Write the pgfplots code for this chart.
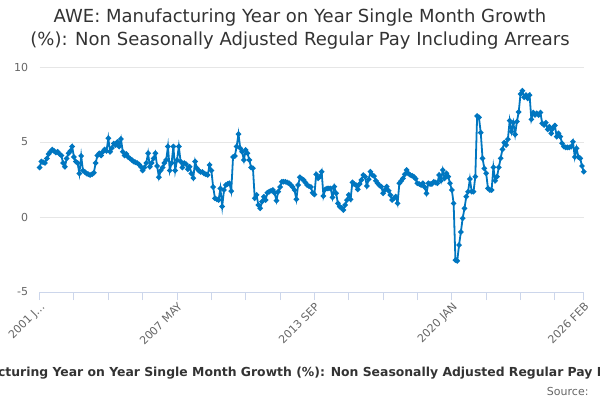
\documentclass[border=0pt]{standalone}
\usepackage{fontspec}
\setmainfont{DejaVu Sans}
\usepackage{pgfplots}
\pgfplotsset{compat=1.18}
\definecolor{linec}{RGB}{0,118,192}
\definecolor{gridc}{HTML}{E6E6E6}
\definecolor{axisc}{HTML}{CCD6EB}
\definecolor{labc}{HTML}{666666}
\definecolor{titc}{HTML}{333333}
\begin{document}
\begin{tikzpicture}[x=1pt,y=1pt]
\begin{axis}[scale only axis,
  width=544.2pt, height=225pt,
  xmin=0, xmax=301, ymin=-5, ymax=10,
  axis x line*=bottom, axis y line*=left,
  x axis line style={draw=axisc, line width=1pt, -},
  y axis line style={draw=none},
  ytick={-5,0,5,10}, yticklabels={-5,0,5,10},
  ymajorgrids, grid style={draw=gridc, line width=1pt},
  ytick style={draw=none},
  xtick={0,76,152,228,301},
  xticklabels={2001 J…,2007 MAY,2013 SEP,2020 JAN,2026 FEB},
  minor xtick={19,38,57,95,114,133,171,190,209,247,266,285},
  xtick align=outside, major tick length=8pt, minor tick length=8pt,
  xtick style={draw=axisc, line width=1pt},
  minor x tick style={draw=axisc, line width=1pt},
  xticklabel style={rotate=45, anchor=north east, font=\fontsize{11}{13}\selectfont, text=labc, inner sep=1pt},
  yticklabel style={font=\fontsize{11}{13}\selectfont, text=labc, xshift=-8pt},
  clip=false,
]
\coordinate (BL) at (rel axis cs:0,0);
\addplot[color=linec, line width=1.8pt, mark=*, mark size=1.7pt, mark options={solid, fill=linec}] coordinates {
(0,3.3)(1,3.7)(2,3.65)(3,3.6)(4,3.9)(5,4.2)(6,4.35)(7,4.5)(8,4.4)(9,4.3)
(10,4.35)(11,4.2)(12,4.1)(13,3.6)(14,3.35)(15,3.9)(16,4.25)(17,4.4)(18,4.7)(19,4.0)
(20,3.7)(21,3.6)(22,2.9)(23,4.07)(24,3.1)(25,3.0)(26,2.9)(27,2.85)(28,2.8)(29,2.85)
(30,2.95)(31,3.6)(32,4.1)(33,4.25)(34,4.1)(35,4.35)(36,4.5)(37,4.4)(38,5.25)(39,4.35)
(40,4.6)(41,4.9)(42,4.8)(43,5.0)(44,4.7)(45,5.2)(46,4.35)(47,4.1)(48,4.2)(49,4.0)
(50,3.9)(51,3.8)(52,3.7)(53,3.65)(54,3.6)(55,3.5)(56,3.35)(57,3.1)(58,3.3)(59,3.6)
(60,4.25)(61,3.35)(62,3.6)(63,3.9)(64,4.25)(65,3.4)(66,2.65)(67,3.1)(68,3.3)(69,3.6)
(70,3.8)(71,4.7)(72,3.1)(73,3.6)(74,4.7)(75,3.1)(76,3.8)(77,4.7)(78,3.7)(79,3.3)
(80,3.6)(81,3.53)(82,3.18)(83,3.35)(84,2.9)(85,2.6)(86,3.7)(87,3.25)(88,3.1)(89,3.0)
(90,3.0)(91,2.9)(92,2.85)(93,2.8)(94,3.47)(95,3.1)(96,2.0)(97,1.25)(98,1.18)(99,1.13)
(100,1.9)(101,0.7)(102,1.8)(103,2.13)(104,2.2)(105,2.25)(106,1.73)(107,4.0)(108,4.07)(109,4.7)
(110,5.53)(111,4.58)(112,4.35)(113,3.8)(114,4.47)(115,4.25)(116,3.8)(117,3.3)(118,3.25)(119,1.25)
(120,1.47)(121,0.8)(122,0.58)(123,1.02)(124,1.35)(125,1.13)(126,1.62)(127,1.69)(128,1.75)(129,1.8)
(130,1.6)(131,1.09)(132,1.69)(133,2.0)(134,2.35)(135,2.35)(136,2.35)(137,2.3)(138,2.25)(139,2.13)
(140,2.0)(141,1.8)(142,1.18)(143,2.13)(144,2.65)(145,2.55)(146,2.47)(147,2.3)(148,2.13)(149,2.05)
(150,2.0)(151,1.62)(152,1.5)(153,2.85)(154,2.58)(155,2.69)(156,3.02)(157,1.4)(158,1.85)(159,1.9)
(160,1.91)(161,1.9)(162,1.31)(163,2.02)(164,1.58)(165,0.91)(166,0.69)(167,0.6)(168,0.47)(169,0.8)
(170,1.13)(171,1.47)(172,1.18)(173,2.31)(174,2.2)(175,2.13)(176,1.84)(177,2.2)(178,2.47)(179,2.8)
(180,2.69)(181,2.07)(182,2.51)(183,3.02)(184,2.8)(185,2.73)(186,2.42)(187,2.25)(188,2.1)(189,2.02)
(190,1.58)(191,1.8)(192,2.02)(193,1.75)(194,1.47)(195,1.13)(196,1.25)(197,1.36)(198,0.91)(199,2.25)
(200,2.4)(201,2.58)(202,2.85)(203,3.13)(204,2.9)(205,2.8)(206,2.75)(207,2.69)(208,2.55)(209,2.25)
(210,2.2)(211,2.13)(212,2.25)(213,2.0)(214,1.58)(215,2.25)(216,2.2)(217,2.2)(218,2.35)(219,2.3)
(220,2.25)(221,2.8)(222,2.42)(223,3.13)(224,2.58)(225,2.91)(226,2.69)(227,2.25)(228,1.8)(229,0.91)
(230,-2.87)(231,-2.93)(232,-1.87)(233,-1.0)(234,-0.09)(235,0.58)(236,1.36)(237,1.69)(238,2.53)(239,1.69)
(240,1.69)(241,2.69)(242,6.73)(243,6.64)(244,5.62)(245,3.91)(246,3.24)(247,2.91)(248,1.91)(249,1.8)
(250,1.8)(251,3.31)(252,2.42)(253,2.69)(254,3.31)(255,3.91)(256,4.51)(257,4.96)(258,4.8)(259,5.18)
(260,6.42)(261,5.69)(262,6.29)(263,5.5)(264,6.36)(265,7.0)(266,8.2)(267,8.42)(268,7.98)(269,8.13)
(270,7.91)(271,8.13)(272,6.51)(273,6.96)(274,6.8)(275,6.91)(276,6.8)(277,6.96)(278,6.24)(279,6.13)
(280,6.29)(281,5.84)(282,6.02)(283,5.58)(284,5.91)(285,6.1)(286,5.36)(287,5.58)(288,5.36)(289,4.91)
(290,4.69)(291,4.64)(292,4.64)(293,4.64)(294,4.69)(295,5.02)(296,4.0)(297,4.58)(298,4.0)(299,3.91)
(300,3.4)(301,3.02)
};
\end{axis}
\pgfresetboundingbox
\path[use as bounding box] ([shift={(-39.6,-108)}]BL) rectangle ([shift={(560.4,292)}]BL);
\node[font=\fontsize{18}{22}\selectfont, text=titc] at ([shift={(260.4,274)}]BL) {AWE: Manufacturing Year on Year Single Month Growth};
\node[font=\fontsize{18}{22}\selectfont, text=titc] at ([shift={(260.4,251)}]BL) {(\%): Non Seasonally Adjusted Regular Pay Including Arrears};
\node[font=\bfseries\fontsize{12.4}{14}\selectfont, text=titc] at ([shift={(272.1,-81)}]BL) {AWE: Manufacturing Year on Year Single Month Growth (\%): Non Seasonally Adjusted Regular Pay Including Arrears};
\node[font=\fontsize{11}{13}\selectfont, text=labc, anchor=east] at ([shift={(552.4,-99)}]BL) {Source:};
\end{tikzpicture}
\end{document}
